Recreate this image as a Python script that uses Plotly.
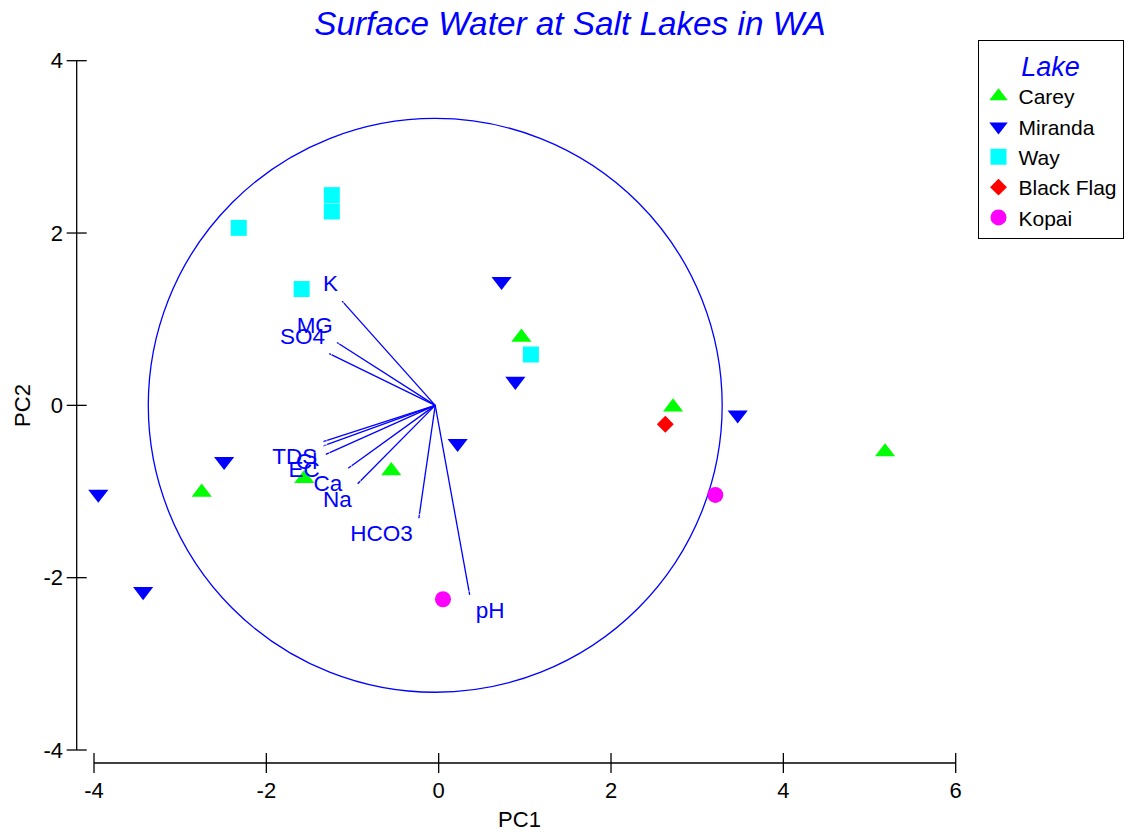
import plotly.graph_objects as go

# ---------------- data ----------------
carey_pc1 = [-2.75, -1.56, -0.55, 0.96, 2.72, 5.18]
carey_pc2 = [-1.01, -0.85, -0.76, 0.79, -0.02, -0.54]
miranda_pc1 = [-3.95, -3.43, -2.49, 0.22, 0.73, 0.89, 3.47]
miranda_pc2 = [-1.03, -2.16, -0.65, -0.44, 1.44, 0.28, -0.11]
way_pc1 = [-2.32, -1.24, -1.24, -1.59, 1.07]
way_pc2 = [2.06, 2.44, 2.25, 1.35, 0.59]
blackflag_pc1 = [2.63]
blackflag_pc2 = [-0.22]
kopai_pc1 = [0.05, 3.21]
kopai_pc2 = [-2.25, -1.04]

variables = ["K", "MG", "SO4", "TDS", "Cl", "EC", "Ca", "Na", "HCO3", "pH"]
load_pc1 = [-1.08, -1.14, -1.23, -1.30, -1.30, -1.27, -1.01, -0.90, -0.19, 0.40]
load_pc2 = [1.21, 0.73, 0.60, -0.42, -0.47, -0.57, -0.73, -0.91, -1.31, -2.20]
biplot_origin = (-0.04, 0.0)
circle_radius = 3.33

x_ticks = [-4, -2, 0, 2, 4, 6]
y_ticks = [-4, -2, 0, 2, 4]

# ---------------- layout geometry ----------------
W, H = 1128, 832
L, R, T, B = 66, 155, 35, 56
sx = (955.7 - 94.0) / 10.0
sy = (750.0 - 60.7) / 8.0
xmin = -4 - (94.0 - L) / sx
xmax = 6 + ((W - R) - 955.7) / sx
ymax = 4 + (60.7 - T) / sy
ymin = -4 - ((H - B) - 750.0) / sy
yaxis_x = -4 - (94.0 - 76.7) / sx      # position of the drawn y axis line
xaxis_y = -4 - (763.0 - 750.0) / sy    # position of the drawn x axis line
tick_dx = 10.0 / sx
tick_dy = 10.0 / sy

FONT = "Arial, Liberation Sans, sans-serif"
BLUE = "#0000FF"

fig = go.Figure()

groups = [
    ("Carey", carey_pc1, carey_pc2, "triangle-up", "#00FF00", 17.5),
    ("Miranda", miranda_pc1, miranda_pc2, "triangle-down", "#0000FF", 17.5),
    ("Way", way_pc1, way_pc2, "square", "#00FFFF", 16),
    ("Black Flag", blackflag_pc1, blackflag_pc2, "diamond", "#FF0000", 13),
    ("Kopai", kopai_pc1, kopai_pc2, "circle", "#FF00FF", 16),
]
for name, xs, ys, sym, col, sz in groups:
    fig.add_trace(go.Scatter(
        x=xs, y=ys, mode="markers", name=name,
        marker=dict(symbol=sym, color=col, size=sz, line=dict(width=0)),
    ))

ox, oy = biplot_origin
end_x = [ox + a for a in load_pc1]
end_y = [oy + b for b in load_pc2]

# loading vectors
vx, vy = [], []
for a, b in zip(end_x, end_y):
    vx += [ox, a, None]
    vy += [oy, b, None]
fig.add_trace(go.Scatter(x=vx, y=vy, mode="lines", showlegend=False,
                         line=dict(color=BLUE, width=1.3), hoverinfo="skip"))

positions, pads = [], []
for a, b in zip(load_pc1, load_pc2):
    v = "top" if b > 0 else "bottom"
    h = "left" if a < 0 else "right"
    positions.append(f"{v} {h}")
    pads.append(5 if b > 0 else 8)   # invisible spacer size -> label offset
fig.add_trace(go.Scatter(
    x=end_x, y=end_y, mode="markers+text", text=variables,
    textposition=positions, showlegend=False,
    marker=dict(size=pads, color="rgba(0,0,0,0)"),
    textfont=dict(family=FONT, size=22.5, color=BLUE),
))

shapes = []
# correlation circle
shapes.append(dict(type="circle", xref="x", yref="y",
                   x0=ox - circle_radius, x1=ox + circle_radius,
                   y0=oy - circle_radius, y1=oy + circle_radius,
                   line=dict(color=BLUE, width=1.3), layer="below"))
axis_line = dict(color="black", width=1.3)
# x axis line + ticks
shapes.append(dict(type="line", xref="x", yref="y", x0=x_ticks[0], x1=x_ticks[-1],
                   y0=xaxis_y, y1=xaxis_y, line=axis_line, layer="below"))
for t in x_ticks:
    shapes.append(dict(type="line", xref="x", yref="y", x0=t, x1=t,
                       y0=xaxis_y - tick_dy, y1=xaxis_y + tick_dy,
                       line=axis_line, layer="below"))
# y axis line + ticks
shapes.append(dict(type="line", xref="x", yref="y", x0=yaxis_x, x1=yaxis_x,
                   y0=y_ticks[0], y1=y_ticks[-1], line=axis_line, layer="below"))
for t in y_ticks:
    shapes.append(dict(type="line", xref="x", yref="y", x0=yaxis_x - tick_dx,
                       x1=yaxis_x + tick_dx, y0=t, y1=t,
                       line=axis_line, layer="below"))

fig.update_layout(
    width=W, height=H,
    margin=dict(l=L, r=R, t=T, b=B, autoexpand=False),
    paper_bgcolor="white", plot_bgcolor="white",
    font=dict(family=FONT, size=22, color="black"),
    title=dict(text="Surface Water at Salt Lakes in WA",
               font=dict(family=FONT, size=33.3, color=BLUE, style="italic"),
               x=570 / W, xref="container", xanchor="center",
               y=1 - 23 / H, yref="container", yanchor="middle"),
    xaxis=dict(range=[xmin, xmax], showgrid=False, zeroline=False, showline=False,
               ticks="", tickvals=x_ticks, ticktext=[str(t) for t in x_ticks],
               tickfont=dict(family=FONT, size=22, color="black"),
               ticklabelstandoff=-1,
               title=dict(text="PC1", font=dict(family=FONT, size=22, color="black"),
                          standoff=9)),
    yaxis=dict(range=[ymin, ymax], showgrid=False, zeroline=False, showline=False,
               ticks="", tickvals=y_ticks, ticktext=[str(t) for t in y_ticks],
               tickfont=dict(family=FONT, size=22, color="black"),
               ticklabelstandoff=2,
               title=dict(text="PC2", font=dict(family=FONT, size=22, color="black"),
                          standoff=6)),
    shapes=shapes,
    legend=dict(
        x=(977.5 - L) / (W - L - R), y=1 - (40 - T) / (H - T - B),
        xanchor="left", yanchor="top",
        bgcolor="white", bordercolor="black", borderwidth=1,
        entrywidth=210, entrywidthmode="pixels",
        font=dict(family=FONT, size=21, color="black"),
        title=dict(text="Lake", side="top center",
                   font=dict(family=FONT, size=27, color=BLUE, style="italic")),
    ),
    showlegend=True,
)

fig.write_html("out.html", config={"displayModeBar": False},
               post_script="document.body.style.margin='0px';")
